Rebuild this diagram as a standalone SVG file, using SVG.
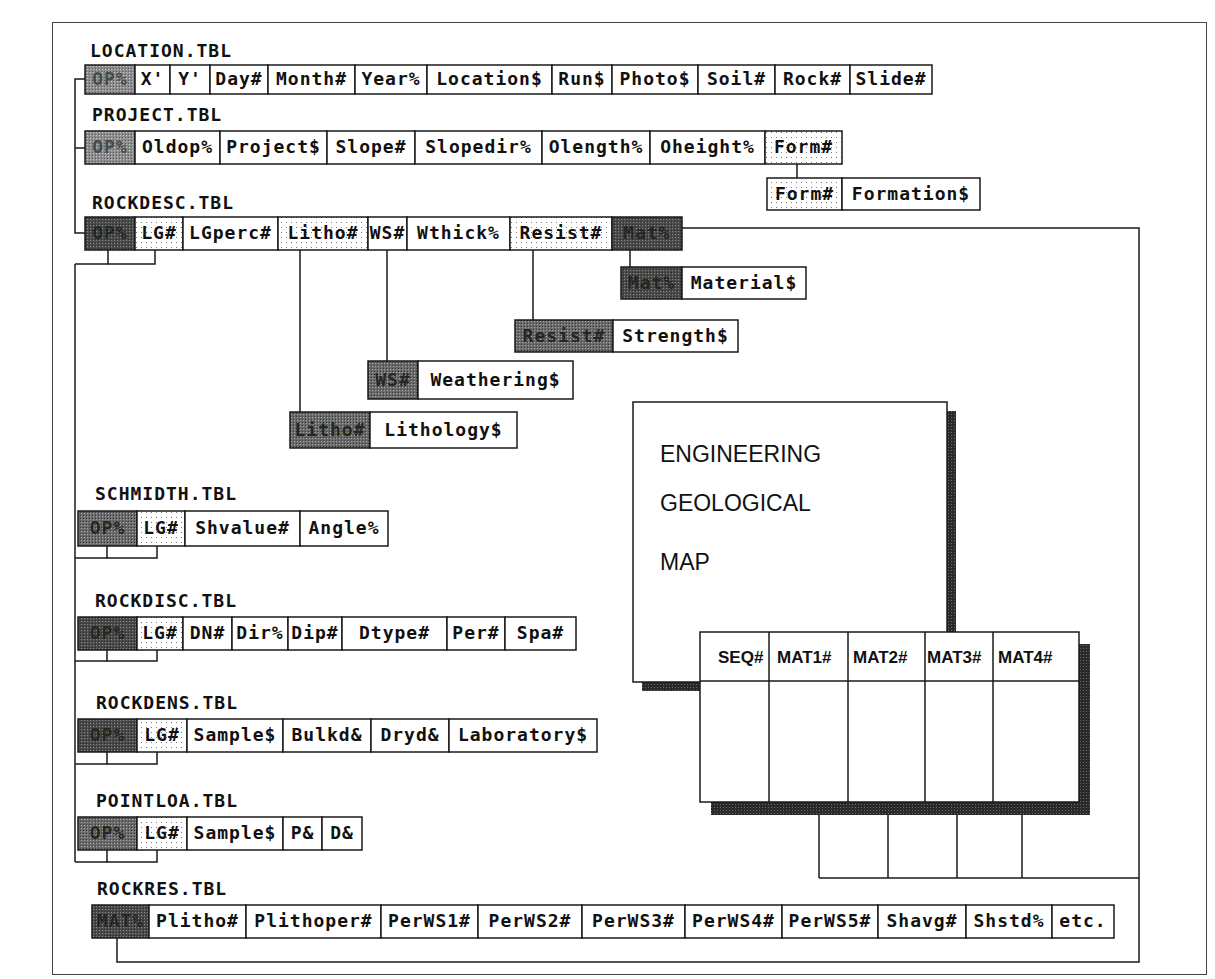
<svg xmlns="http://www.w3.org/2000/svg" width="1215" height="979" viewBox="0 0 1215 979">
<defs>
<pattern id="pDark" width="3" height="3" patternUnits="userSpaceOnUse"><rect width="3" height="3" fill="#4a4a4a"/><rect width="1" height="1" fill="#8a8a8a"/><rect x="2" y="2" width="1" height="1" fill="#2a2a2a"/></pattern>
<pattern id="pMid" width="3" height="3" patternUnits="userSpaceOnUse"><rect width="3" height="3" fill="#6a6a6a"/><rect width="1" height="1" fill="#a8a8a8"/><rect x="2" y="2" width="1" height="1" fill="#3a3a3a"/></pattern>
<pattern id="pGray" width="3" height="3" patternUnits="userSpaceOnUse"><rect width="3" height="3" fill="#8c8c8c"/><rect width="1" height="1" fill="#c8c8c8"/><rect x="2" y="2" width="1" height="1" fill="#5a5a5a"/></pattern>
<pattern id="pDot" width="5" height="5" patternUnits="userSpaceOnUse"><rect width="5" height="5" fill="#fff"/><rect x="1" y="2" width="1" height="1" fill="#7a7a7a"/></pattern>
<pattern id="pShadow" width="3" height="3" patternUnits="userSpaceOnUse"><rect width="3" height="3" fill="#2a2a2a"/><rect width="1" height="1" fill="#6a6a6a"/></pattern>
</defs>
<style>
.c{fill:#fff;stroke:#1a1a1a;stroke-width:1.5}
.dk{fill:url(#pDark)}
.md{fill:url(#pMid)}
.gy{fill:url(#pGray)}
.dt{fill:url(#pDot)}
.t{font-family:"DejaVu Sans Mono","Liberation Mono",monospace;font-weight:bold;font-size:18px;letter-spacing:1px;fill:#111;text-anchor:middle}
.tk{fill:#262626}
.tg{fill:#4a4a4a}
.lbl{font-family:"DejaVu Sans Mono","Liberation Mono",monospace;font-weight:bold;font-size:18px;letter-spacing:1px;fill:#111}
.ln{fill:none;stroke:#1a1a1a;stroke-width:1.5}
.map{font-family:"Liberation Sans",Arial,sans-serif;font-size:23px;fill:#111}
.hd{font-family:"Liberation Sans",Arial,sans-serif;font-weight:bold;font-size:17px;fill:#111}
</style>
<rect x="52.5" y="22.5" width="1154" height="952" fill="#fff" stroke="#444" stroke-width="1"/>

<g id="connectors" class="ln">
<polyline points="85,79 75,79 75,233 85,233"/>
<line x1="75" y1="148" x2="85" y2="148"/>
<line x1="797" y1="164" x2="797" y2="178"/>
<line x1="300" y1="250" x2="300" y2="412"/>
<line x1="387" y1="250" x2="387" y2="361"/>
<line x1="533" y1="250" x2="533" y2="320"/>
<line x1="630" y1="250" x2="630" y2="267"/>
<polyline points="108,250 108,264 155,264 155,250"/>
<polyline points="107,546 107,558 157,558 157,546"/>
<polyline points="107,650 107,661 157,661 157,650"/>
<polyline points="107,752 107,764 157,764 157,752"/>
<polyline points="107,850 107,862 157,862 157,850"/>
<line x1="75" y1="264" x2="108" y2="264"/>
<line x1="75" y1="558" x2="107" y2="558"/>
<line x1="75" y1="661" x2="107" y2="661"/>
<line x1="75" y1="764" x2="107" y2="764"/>
<line x1="75" y1="264" x2="75" y2="862"/>
<line x1="75" y1="862" x2="107" y2="862"/>
<polyline points="682,228 1139,228 1139,962 117,962 117,938"/>
<line x1="819" y1="815" x2="819" y2="878"/>
<line x1="888" y1="815" x2="888" y2="878"/>
<line x1="957" y1="815" x2="957" y2="878"/>
<line x1="1022" y1="815" x2="1022" y2="878"/>
<line x1="819" y1="878" x2="1139" y2="878"/>
</g>

<g id="location">
<text class="lbl" x="90" y="57">LOCATION.TBL</text>
<rect class="c gy" x="85" y="65" width="50" height="29"/><text class="t tg" x="110" y="85">OP%</text>
<rect class="c" x="135" y="65" width="35" height="29"/><text class="t" x="152.5" y="85">X'</text>
<rect class="c" x="170" y="65" width="40" height="29"/><text class="t" x="190" y="85">Y'</text>
<rect class="c" x="210" y="65" width="58" height="29"/><text class="t" x="239" y="85">Day#</text>
<rect class="c" x="268" y="65" width="87" height="29"/><text class="t" x="311.5" y="85">Month#</text>
<rect class="c" x="355" y="65" width="72" height="29"/><text class="t" x="391" y="85">Year%</text>
<rect class="c" x="427" y="65" width="125" height="29"/><text class="t" x="489.5" y="85">Location$</text>
<rect class="c" x="552" y="65" width="60" height="29"/><text class="t" x="582" y="85">Run$</text>
<rect class="c" x="612" y="65" width="86" height="29"/><text class="t" x="655" y="85">Photo$</text>
<rect class="c" x="698" y="65" width="77" height="29"/><text class="t" x="736.5" y="85">Soil#</text>
<rect class="c" x="775" y="65" width="75" height="29"/><text class="t" x="812.5" y="85">Rock#</text>
<rect class="c" x="850" y="65" width="82" height="29"/><text class="t" x="891" y="85">Slide#</text>
</g>

<g id="project">
<text class="lbl" x="92" y="121">PROJECT.TBL</text>
<rect class="c gy" x="85" y="131" width="50" height="33"/><text class="t tg" x="110" y="153">OP%</text>
<rect class="c" x="135" y="131" width="85" height="33"/><text class="t" x="177.5" y="153">Oldop%</text>
<rect class="c" x="220" y="131" width="107" height="33"/><text class="t" x="273.5" y="153">Project$</text>
<rect class="c" x="327" y="131" width="88" height="33"/><text class="t" x="371" y="153">Slope#</text>
<rect class="c" x="415" y="131" width="127" height="33"/><text class="t" x="478.5" y="153">Slopedir%</text>
<rect class="c" x="542" y="131" width="108" height="33"/><text class="t" x="596" y="153">Olength%</text>
<rect class="c" x="650" y="131" width="115" height="33"/><text class="t" x="707.5" y="153">Oheight%</text>
<rect class="c dt" x="765" y="131" width="77" height="33"/><text class="t" x="803.5" y="153">Form#</text>
</g>

<g id="formation">
<rect class="c dt" x="767" y="178" width="75" height="32"/><text class="t" x="804.5" y="200">Form#</text>
<rect class="c" x="842" y="178" width="138" height="32"/><text class="t" x="911" y="200">Formation$</text>
</g>

<g id="rockdesc">
<text class="lbl" x="92" y="209">ROCKDESC.TBL</text>
<rect class="c dk" x="85" y="217" width="50" height="33"/><text class="t tk" x="110" y="239">OP%</text>
<rect class="c dt" x="135" y="217" width="48" height="33"/><text class="t" x="159" y="239">LG#</text>
<rect class="c" x="183" y="217" width="95" height="33"/><text class="t" x="230.5" y="239">LGperc#</text>
<rect class="c dt" x="278" y="217" width="90" height="33"/><text class="t" x="323" y="239">Litho#</text>
<rect class="c" x="368" y="217" width="39" height="33"/><text class="t" x="387.5" y="239">WS#</text>
<rect class="c" x="407" y="217" width="103" height="33"/><text class="t" x="458.5" y="239">Wthick%</text>
<rect class="c dt" x="510" y="217" width="102" height="33"/><text class="t" x="561" y="239">Resist#</text>
<rect class="c dk" x="612" y="217" width="70" height="33"/><text class="t tk" x="647" y="239">Mat%</text>
</g>

<g id="material">
<rect class="c dk" x="621" y="267" width="61" height="32"/><text class="t tk" x="651.5" y="289">Mat%</text>
<rect class="c" x="682" y="267" width="124" height="32"/><text class="t" x="744" y="289">Material$</text>
</g>

<g id="strength">
<rect class="c md" x="515" y="320" width="98" height="32"/><text class="t tk" x="564" y="342">Resist#</text>
<rect class="c" x="613" y="320" width="125" height="32"/><text class="t" x="675.5" y="342">Strength$</text>
</g>

<g id="weathering">
<rect class="c md" x="368" y="361" width="50" height="38"/><text class="t tk" x="393" y="386">WS#</text>
<rect class="c" x="418" y="361" width="155" height="38"/><text class="t" x="495.5" y="386">Weathering$</text>
</g>

<g id="lithology">
<rect class="c md" x="290" y="412" width="80" height="36"/><text class="t tk" x="330" y="436">Litho#</text>
<rect class="c" x="370" y="412" width="147" height="36"/><text class="t" x="443.5" y="436">Lithology$</text>
</g>

<g id="schmidth">
<text class="lbl" x="95" y="500">SCHMIDTH.TBL</text>
<rect class="c md" x="78" y="511" width="59" height="35"/><text class="t tk" x="107.5" y="534">OP%</text>
<rect class="c dt" x="137" y="511" width="48" height="35"/><text class="t" x="161" y="534">LG#</text>
<rect class="c" x="185" y="511" width="115" height="35"/><text class="t" x="242.5" y="534">Shvalue#</text>
<rect class="c" x="300" y="511" width="88" height="35"/><text class="t" x="344" y="534">Angle%</text>
</g>

<g id="rockdisc">
<text class="lbl" x="95" y="607">ROCKDISC.TBL</text>
<rect class="c dk" x="78" y="617" width="59" height="33"/><text class="t tk" x="107.5" y="639">OP%</text>
<rect class="c dt" x="137" y="617" width="46" height="33"/><text class="t" x="160" y="639">LG#</text>
<rect class="c" x="183" y="617" width="49" height="33"/><text class="t" x="207.5" y="639">DN#</text>
<rect class="c" x="232" y="617" width="56" height="33"/><text class="t" x="260" y="639">Dir%</text>
<rect class="c" x="288" y="617" width="54" height="33"/><text class="t" x="315" y="639">Dip#</text>
<rect class="c" x="342" y="617" width="105" height="33"/><text class="t" x="394.5" y="639">Dtype#</text>
<rect class="c" x="447" y="617" width="58" height="33"/><text class="t" x="476" y="639">Per#</text>
<rect class="c" x="505" y="617" width="71" height="33"/><text class="t" x="540.5" y="639">Spa#</text>
</g>

<g id="rockdens">
<text class="lbl" x="96" y="709">ROCKDENS.TBL</text>
<rect class="c dk" x="78" y="719" width="59" height="33"/><text class="t tk" x="107.5" y="741">OP%</text>
<rect class="c dt" x="137" y="719" width="50" height="33"/><text class="t" x="162" y="741">LG#</text>
<rect class="c" x="187" y="719" width="96" height="33"/><text class="t" x="235" y="741">Sample$</text>
<rect class="c" x="283" y="719" width="88" height="33"/><text class="t" x="327" y="741">Bulkd&amp;</text>
<rect class="c" x="371" y="719" width="78" height="33"/><text class="t" x="410" y="741">Dryd&amp;</text>
<rect class="c" x="449" y="719" width="148" height="33"/><text class="t" x="523" y="741">Laboratory$</text>
</g>

<g id="pointloa">
<text class="lbl" x="96" y="807">POINTLOA.TBL</text>
<rect class="c md" x="78" y="817" width="59" height="33"/><text class="t tk" x="107.5" y="839">OP%</text>
<rect class="c dt" x="137" y="817" width="50" height="33"/><text class="t" x="162" y="839">LG#</text>
<rect class="c" x="187" y="817" width="96" height="33"/><text class="t" x="235" y="839">Sample$</text>
<rect class="c" x="283" y="817" width="39" height="33"/><text class="t" x="302.5" y="839">P&amp;</text>
<rect class="c" x="322" y="817" width="40" height="33"/><text class="t" x="342" y="839">D&amp;</text>
</g>

<g id="rockres">
<text class="lbl" x="97" y="895">ROCKRES.TBL</text>
<rect class="c dk" x="92" y="905" width="57" height="33"/><text class="t tk" x="120.5" y="927">MAT%</text>
<rect class="c" x="149" y="905" width="97" height="33"/><text class="t" x="197.5" y="927">Plitho#</text>
<rect class="c" x="246" y="905" width="135" height="33"/><text class="t" x="313.5" y="927">Plithoper#</text>
<rect class="c" x="381" y="905" width="97" height="33"/><text class="t" x="429.5" y="927">PerWS1#</text>
<rect class="c" x="478" y="905" width="104" height="33"/><text class="t" x="530" y="927">PerWS2#</text>
<rect class="c" x="582" y="905" width="103" height="33"/><text class="t" x="633.5" y="927">PerWS3#</text>
<rect class="c" x="685" y="905" width="97" height="33"/><text class="t" x="733.5" y="927">PerWS4#</text>
<rect class="c" x="782" y="905" width="96" height="33"/><text class="t" x="830" y="927">PerWS5#</text>
<rect class="c" x="878" y="905" width="88" height="33"/><text class="t" x="922" y="927">Shavg#</text>
<rect class="c" x="966" y="905" width="86" height="33"/><text class="t" x="1009" y="927">Shstd%</text>
<rect class="c" x="1052" y="905" width="62" height="33"/><text class="t" x="1083" y="927">etc.</text>
</g>

<g id="map">
<rect x="642" y="411" width="314" height="280" fill="url(#pShadow)"/>
<rect class="c" x="633" y="402" width="314" height="280"/>
<text class="map" x="660" y="462">ENGINEERING</text>
<text class="map" x="660" y="511">GEOLOGICAL</text>
<text class="map" x="660" y="570">MAP</text>
</g>

<g id="matgrid">
<rect x="711" y="644" width="379" height="171" fill="url(#pShadow)"/>
<rect class="c" x="700" y="632" width="379" height="170"/>
<g class="ln">
<line x1="700" y1="681" x2="1079" y2="681"/>
<line x1="769" y1="632" x2="769" y2="802"/>
<line x1="848" y1="632" x2="848" y2="802"/>
<line x1="925" y1="632" x2="925" y2="802"/>
<line x1="993" y1="632" x2="993" y2="802"/>
</g>
<text class="hd" x="718" y="663">SEQ#</text>
<text class="hd" x="777" y="663">MAT1#</text>
<text class="hd" x="853" y="663">MAT2#</text>
<text class="hd" x="927" y="663">MAT3#</text>
<text class="hd" x="998" y="663">MAT4#</text>
</g>
</svg>
